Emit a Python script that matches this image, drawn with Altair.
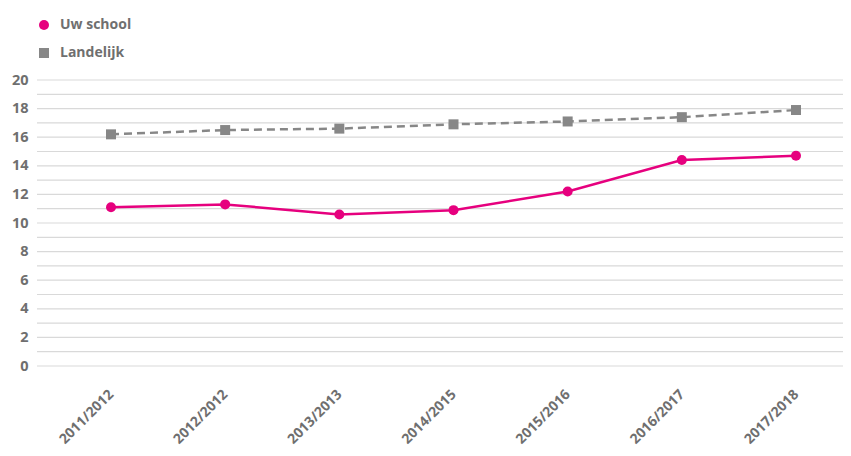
import altair as alt
import pandas as pd

years = ["2011/2012", "2012/2012", "2013/2013", "2014/2015", "2015/2016", "2016/2017", "2017/2018"]
uw_school = [11.1, 11.3, 10.6, 10.9, 12.2, 14.4, 14.7]
landelijk = [16.2, 16.5, 16.6, 16.9, 17.1, 17.4, 17.9]
series_names = ["Uw school", "Landelijk"]
y_ticks = list(range(0, 21))

rows = []
for name, vals in zip(series_names, [uw_school, landelijk]):
    for yr, v in zip(years, vals):
        rows.append({"jaar": yr, "waarde": v, "reeks": name})
df = pd.DataFrame(rows)
grid_df = pd.DataFrame({"waarde": y_ticks})

FONT = "Open Sans"
GRAY_TXT = "#6f6f6f"
W, H = 806, 286

x_enc = alt.X("jaar:N", sort=years,
              scale=alt.Scale(type="point", range=[74, 759], padding=0),
              axis=alt.Axis(title=None, labelAngle=-45, labelAlign="right", labelBaseline="middle",
                            labelPadding=26, labelOffset=0, domain=False, ticks=False, grid=False,
                            labelFont=FONT, labelFontWeight="bold", labelFontSize=14, labelColor=GRAY_TXT))
y_scale = alt.Scale(domain=[0, 20], nice=False)
y_enc = alt.Y("waarde:Q", scale=y_scale,
              axis=alt.Axis(title=None, values=y_ticks, domain=False, ticks=False, grid=False,
                            labelExpr="datum.value % 2 == 0 ? datum.label : ''",
                            labelPadding=9,
                            labelFont=FONT, labelFontWeight="bold", labelFontSize=14.5, labelColor=GRAY_TXT))
legend_cfg = dict(title=None, orient="none", legendX=0, legendY=-62,
                  labelFont=FONT, labelFontWeight="bold", labelFontSize=14,
                  labelColor=GRAY_TXT, symbolSize=100, rowPadding=12,
                  labelOffset=9, padding=0, symbolOpacity=1)
color_enc = alt.Color("reeks:N", sort=series_names,
                      scale=alt.Scale(domain=series_names, range=["#e6007e", "#878787"]),
                      legend=alt.Legend(**legend_cfg))

grid = alt.Chart(grid_df).mark_rule(color="#d9d9d9", strokeWidth=1.2).encode(
    y=y_enc,
    x=alt.value(0), x2=alt.value(W),
)

line_uw = alt.Chart(df).transform_filter(alt.datum.reeks == "Uw school").mark_line(
    strokeWidth=2.5, color="#e6007e").encode(x=x_enc, y=y_enc)
line_land = alt.Chart(df).transform_filter(alt.datum.reeks == "Landelijk").mark_line(
    strokeWidth=2.5, color="#878787", strokeDash=[8, 5]).encode(x=x_enc, y=y_enc)

points = alt.Chart(df).mark_point(filled=True, size=100, opacity=1).encode(
    x=x_enc, y=y_enc, color=color_enc,
    shape=alt.Shape("reeks:N", sort=series_names,
                    scale=alt.Scale(domain=series_names, range=["circle", "square"]),
                    legend=alt.Legend(**legend_cfg)),
)

chart = alt.layer(grid, line_land, line_uw, points).properties(
    width=W, height=H,
    background="white",
    autosize=alt.AutoSizeParams(type="none"),
    padding={"left": 29, "top": 72, "right": 0, "bottom": 82},
).configure_view(stroke=None)

chart.save("out.html", embed_options={"renderer": "svg", "actions": False})
